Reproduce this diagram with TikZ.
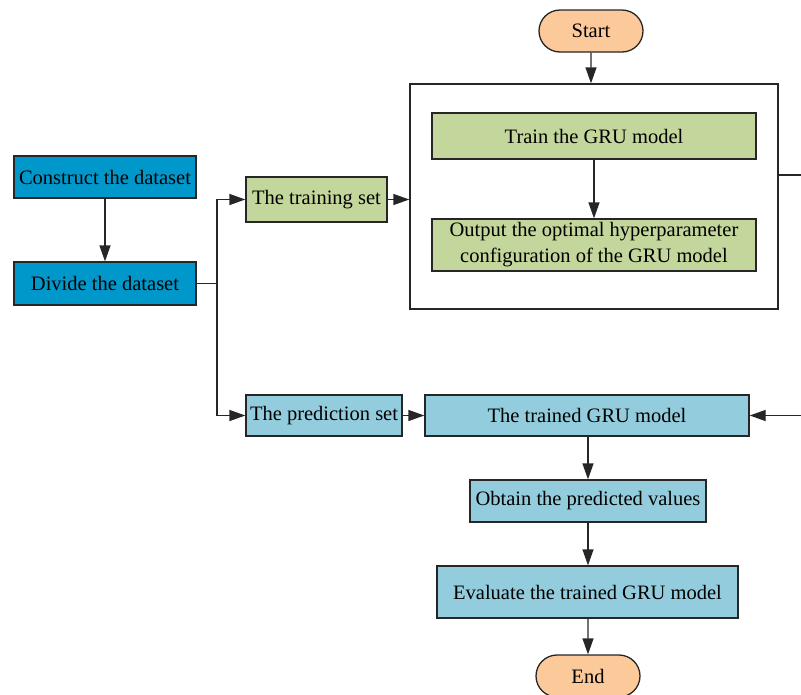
\documentclass[tikz,border=0pt]{standalone}
\usepackage{fontspec}
\setmainfont{Liberation Serif}
\usetikzlibrary{arrows.meta,shapes.misc}
\definecolor{dblue}{HTML}{0098CA}
\definecolor{lgreen}{HTML}{C3D69B}
\definecolor{lblue}{HTML}{93CDDD}
\definecolor{peach}{HTML}{FCCA9A}
\tikzset{
  box/.style={draw=black!85, line width=1.3pt, inner sep=0pt, align=center, font=\fontsize{20.5}{24}\selectfont},
  term/.style={box, rounded rectangle},
  arr/.style={draw=black!85, line width=1.3pt, -{Triangle[length=16pt,width=11pt]}},
  ln/.style={draw=black!85, line width=1.3pt},
}
\begin{document}
\begin{tikzpicture}[x=1pt,y=-1pt]
\useasboundingbox (0,0) rectangle (801,694);
\begin{scope}
\clip (0,0) rectangle (801,694);
\node[term, fill=peach, minimum width=104pt, minimum height=42pt] (start) at (591,31) {Start};
\node[draw=black!85, line width=1.3pt, minimum width=368pt, minimum height=225pt, inner sep=0pt] (big) at (594,196.5) {};
\node[box, fill=lgreen, minimum width=324pt, minimum height=46pt] (train) at (594,136) {Train the GRU model};
\node[box, fill=lgreen, minimum width=324pt, minimum height=52pt, font=\fontsize{20.5}{26}\selectfont] (opt) at (594,245) {Output the optimal hyperparameter\\configuration of the GRU model};
\node[box, fill=dblue, minimum width=182pt, minimum height=42pt] (cons) at (105,177) {Construct the dataset};
\node[box, fill=dblue, minimum width=182pt, minimum height=43pt] (div) at (105,283.5) {Divide the dataset};
\node[box, fill=lgreen, minimum width=141pt, minimum height=45pt] (tset) at (316.5,199.5) {The training set};
\node[box, fill=lblue, minimum width=156pt, minimum height=41pt] (pset) at (324,415.5) {The prediction set};
\node[box, fill=lblue, minimum width=324pt, minimum height=41pt] (tgru) at (587,415.5) {The trained GRU model};
\node[box, fill=lblue, minimum width=236pt, minimum height=42pt] (obt) at (588,501) {Obtain the predicted values};
\node[box, fill=lblue, minimum width=301pt, minimum height=52pt] (eval) at (587.5,592) {Evaluate the trained GRU model};
\node[term, fill=peach, minimum width=104pt, minimum height=42pt] (end) at (588,676) {End};
\coordinate (j) at (217,283.5);
\coordinate (rin) at (801,415.5);
\coordinate (rout) at (801,175);

\draw[arr] (start) -- (start.south |- big.north);
\draw[arr] (train) -- (opt);
\draw[arr] (cons) -- (div);
\draw[ln] (div.east) -- (j);
\draw[arr] (j) |- (tset.west);
\draw[arr] (j) |- (pset.west);
\draw[arr] (tset.east) -- (tset.east -| big.west);
\draw[arr] (pset) -- (tgru);
\draw[arr] (rin) -- (tgru.east);
\draw[ln] (big.east |- rout) -- (rout);
\draw[arr] (tgru.south -| obt) -- (obt);
\draw[arr] (obt) -- (obt.south |- eval.north);
\draw[arr] (eval.south -| end) -- (end);
\end{scope}
\end{tikzpicture}
\end{document}
